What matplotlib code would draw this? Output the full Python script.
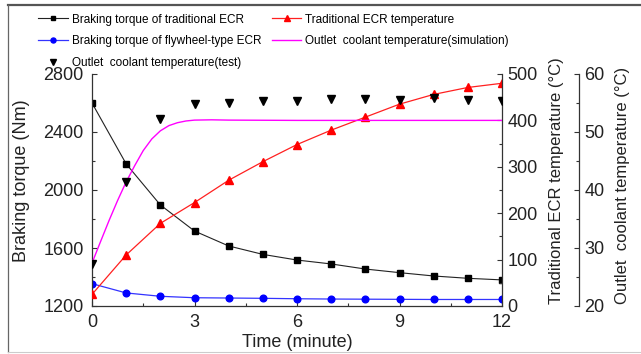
import matplotlib
matplotlib.use('Agg')
import matplotlib.pyplot as plt
from matplotlib.lines import Line2D
from matplotlib.ticker import MultipleLocator

plt.rcParams['font.family'] = ['Liberation Sans', 'DejaVu Sans']

# data
time = [0, 1, 2, 3, 4, 5, 6, 7, 8, 9, 10, 11, 12]
torque_trad = [2600, 2180, 1897, 1717, 1614, 1556, 1517, 1490, 1455, 1430, 1407, 1391, 1380]
torque_fly = [1354, 1290, 1267, 1257, 1255, 1253, 1250, 1248, 1247, 1246, 1245, 1245, 1245]
ecr_temp = [25, 110, 178, 223, 271, 311, 348, 379, 407, 435, 456, 471, 480]
coolant_test = [27.3, 41.3, 52.2, 54.8, 55.0, 55.4, 55.4, 55.7, 55.7, 55.5, 55.9, 55.5, 55.4]

sim_time = [0, 0.25, 0.5, 0.75, 1, 1.25, 1.5, 1.75, 2, 2.25, 2.5, 2.75, 3, 3.5, 4, 6, 8, 10, 12]
sim_temp = [27.4, 31.1, 34.75, 38.2, 41.4, 44.2, 46.8, 48.8, 50.2, 51.1, 51.6, 51.9, 52.05,
            52.1, 52.05, 52.0, 52.0, 52.0, 52.0]

fig = plt.figure(figsize=(6.41, 3.54), dpi=100)
ax = fig.add_axes([92/641, 1-306/354, 410/641, 232/354])
ax2 = ax.twinx()
ax3 = ax.twinx()

lw = 0.9
l1, = ax.plot(time, torque_trad, color='#222222', lw=0.8, marker='s', ms=4.3,
              mfc='black', mec='black', label='Braking torque of traditional ECR')
l2, = ax.plot(time, torque_fly, color='#3333ff', lw=lw, marker='o', ms=4.8,
              mfc='#0000ff', mec='#0000ff', label='Braking torque of flywheel-type ECR')
l3, = ax2.plot(time, ecr_temp, color='#ff2020', lw=lw, marker='^', ms=5.3,
               mfc='#ff0000', mec='#ff0000', label='Traditional ECR temperature')
l4, = ax3.plot(sim_time, sim_temp, color='#ff00ff', lw=1.0,
               label='Outlet  coolant temperature(simulation)')
l5, = ax3.plot(time, coolant_test, ls='none', marker='v', ms=5.3, color='black',
               label='Outlet  coolant temperature(test)')

ax.set_xlim(0, 12)
ax.set_ylim(1200, 2800)
ax2.set_ylim(0, 500)
ax3.set_ylim(20, 60)

ax.xaxis.set_major_locator(MultipleLocator(3))
ax.xaxis.set_minor_locator(MultipleLocator(1.5))
ax.yaxis.set_major_locator(MultipleLocator(400))
ax.yaxis.set_minor_locator(MultipleLocator(200))
ax2.yaxis.set_major_locator(MultipleLocator(100))
ax2.yaxis.set_minor_locator(MultipleLocator(50))
ax3.yaxis.set_major_locator(MultipleLocator(10))
ax3.yaxis.set_minor_locator(MultipleLocator(5))

for a in (ax, ax2, ax3):
    a.spines['top'].set_visible(False)
    for s in a.spines.values():
        s.set_linewidth(0.9)
        s.set_color('#333333')
    a.tick_params(which='major', direction='in', length=3.5, width=0.8, labelsize=13, colors='#333333')
    a.tick_params(which='minor', direction='in', length=2.2, width=0.8, colors='#333333')
    a.tick_params(labelcolor='#222222')

ax.spines['right'].set_visible(False)
ax.tick_params(axis='x', pad=6)
ax.tick_params(axis='y', pad=6)
ax2.spines['left'].set_visible(False)
ax2.spines['bottom'].set_visible(False)
ax3.spines['left'].set_visible(False)
ax3.spines['bottom'].set_visible(False)
ax3.spines['right'].set_position(('axes', (579-92)/410))
ax2.tick_params(axis='y', pad=4)
ax3.tick_params(axis='y', pad=4)

ax.set_xlabel('Time (minute)', fontsize=13, color='#222222', labelpad=2)
ax.set_ylabel('Braking torque (Nm)', fontsize=13, color='#222222')
ax2.set_ylabel('Traditional ECR temperature (°C)', fontsize=12, color='#222222')
ax3.set_ylabel('Outlet  coolant temperature (°C)', fontsize=12, color='#222222')
ax.yaxis.set_label_coords((22-92)/410, 0.54)
ax2.yaxis.set_label_coords((557-92)/410, 0.54)
ax3.yaxis.set_label_coords((622-92)/410, 0.52)
for a in (ax, ax2, ax3):
    a.yaxis.label.set_verticalalignment('center')

handles = [l1, l2, l5, l3, l4]
fig.legend(handles, [h.get_label() for h in handles], ncol=2, frameon=False,
           loc='upper left', bbox_to_anchor=(38/641, 1-13.5/354), fontsize=8.5,
           handlelength=2.5, handletextpad=0.35, columnspacing=0.9,
           labelspacing=0.82, borderpad=0, borderaxespad=0, markerscale=0.75)

# frame around the picture
fig.add_artist(Line2D([8/641, 1], [1-5/354, 1-5/354], color='#555555', lw=1.6))
fig.add_artist(Line2D([8/641, 8/641], [1-352/354, 1-5/354], color='#666666', lw=0.9))
fig.add_artist(Line2D([8/641, 1], [1-352/354, 1-352/354], color='#cccccc', lw=0.8))

fig.savefig('out.png', dpi=100)
